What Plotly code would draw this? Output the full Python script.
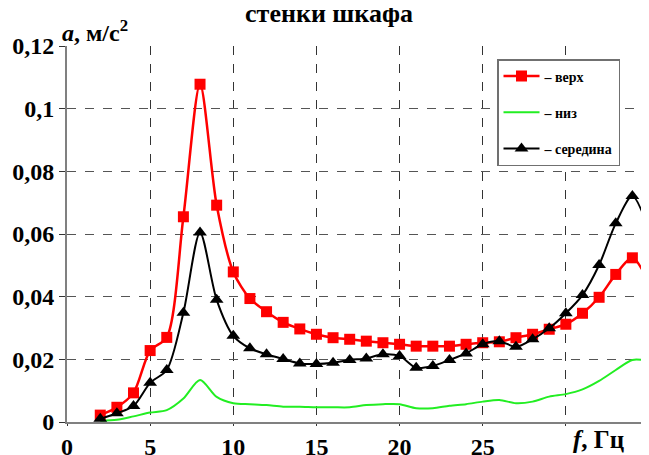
import plotly.graph_objects as go

freq = list(range(2, 36))
top_vals = [0.0022, 0.0047, 0.0093, 0.0228, 0.0270, 0.0655, 0.1078, 0.0692, 0.0479, 0.0394,
            0.0352, 0.0318, 0.0297, 0.0280, 0.0269, 0.0264, 0.0258, 0.0253, 0.0248, 0.0242,
            0.0242, 0.0242, 0.0248, 0.0253, 0.0256, 0.0269, 0.0280, 0.0296, 0.0312, 0.0347,
            0.0398, 0.0471, 0.0524, 0.0444]
bottom_vals = [0.0004, 0.0007, 0.0018, 0.0030, 0.0038, 0.0075, 0.0134, 0.0080, 0.0060, 0.0057,
               0.0054, 0.0049, 0.0049, 0.0047, 0.0047, 0.0047, 0.0054, 0.0057, 0.0057, 0.0044,
               0.0044, 0.0052, 0.0057, 0.0065, 0.0070, 0.0060, 0.0065, 0.0081, 0.0089, 0.0104,
               0.0131, 0.0166, 0.0198, 0.0195]
middle_vals = [0.0010, 0.0028, 0.0051, 0.0125, 0.0166, 0.0349, 0.0605, 0.0390, 0.0275, 0.0235,
               0.0216, 0.0201, 0.0187, 0.0185, 0.0189, 0.0198, 0.0203, 0.0216, 0.0211, 0.0173,
               0.0179, 0.0198, 0.0219, 0.0248, 0.0258, 0.0240, 0.0264, 0.0299, 0.0347, 0.0405,
               0.0501, 0.0634, 0.0721, 0.0612]

x_tickvals = [0, 5, 10, 15, 20, 25, 30]
x_ticktext = ["0", "5", "10", "15", "20", "25", ""]
y_tickvals = [0, 0.02, 0.04, 0.06, 0.08, 0.10, 0.12]
y_ticktext = ["0", "0,02", "0,04", "0,06", "0,08", "0,1", "0,12"]

names = ["– верх", "– низ", "– середина"]
title_text = "стенки шкафа"

SERIF = "Liberation Serif"
# the page body has an 8px default margin, so the figure is sized to fit the window
W, H = 641, 447

fig = go.Figure()
fig.add_trace(go.Scatter(
    x=freq, y=top_vals, name=names[0], mode="lines+markers",
    line=dict(color="#ff0000", width=2.5, shape="spline", smoothing=0.8),
    marker=dict(symbol="square", size=11, color="#ff0000"),
    legendgroup="a"))
fig.add_trace(go.Scatter(
    x=freq, y=bottom_vals, name=names[1], mode="lines",
    line=dict(color="#22ee22", width=2, shape="spline", smoothing=0.8),
    legendgroup="b"))
fig.add_trace(go.Scatter(
    x=freq, y=middle_vals, name=names[2], mode="lines+markers",
    line=dict(color="#000000", width=2, shape="spline", smoothing=0.8),
    marker=dict(symbol="triangle-up", size=12, color="#000000"),
    legendgroup="c"))

fig.update_layout(
    width=W, height=H,
    margin=dict(l=59, r=0, t=38, b=33, autoexpand=False),
    paper_bgcolor="white", plot_bgcolor="white",
    font=dict(family=SERIF, color="black"),
    title=dict(text="<b>" + title_text + "</b>", x=(329 - 8) / W, xanchor="center",
               y=1 - 5 / H, yanchor="middle",
               font=dict(family=SERIF, size=26, color="black")),
    legend=dict(x=(497 - 67) / 582, y=(422 - 59) / 376, xanchor="left", yanchor="top",
                bgcolor="white", bordercolor="#707070", borderwidth=1.5,
                font=dict(family=SERIF, size=14, color="black", weight="bold"),
                tracegroupgap=15, itemwidth=36),
    showlegend=True,
)
fig.update_xaxes(
    range=[0, 35], tickvals=x_tickvals, ticktext=x_ticktext, automargin=False,
    showgrid=True, gridcolor="#333333", griddash="dash", gridwidth=1,
    showline=True, linecolor="#808080", linewidth=2,
    ticks="outside", ticklen=2, tickcolor="#333333",
    tickfont=dict(family=SERIF, size=24, color="black", weight="bold"),
    zeroline=False)
fig.update_yaxes(
    range=[0, 0.12], tickvals=y_tickvals, ticktext=y_ticktext, automargin=False,
    showgrid=True, gridcolor="#555555", griddash="dash", gridwidth=1,
    showline=True, linecolor="#808080", linewidth=2,
    ticks="outside", ticklen=6, tickcolor="#333333",
    tickfont=dict(family=SERIF, size=24, color="black", weight="bold"),
    zeroline=False)

fig.add_annotation(text="<b><i>a</i>, м/с<sup>2</sup></b>", xref="paper", yref="paper",
                   x=(60 - 67) / 582, y=(422 - 31) / 376, xanchor="left", yanchor="middle",
                   showarrow=False, font=dict(family=SERIF, size=24, color="black"))
fig.add_annotation(text="<b><i>f</i>, Гц</b>", xref="paper", yref="paper",
                   x=(571 - 67) / 582, y=(422 - 439) / 376, xanchor="left", yanchor="middle",
                   showarrow=False, font=dict(family=SERIF, size=25, color="black"))

fig.write_html("out.html")
